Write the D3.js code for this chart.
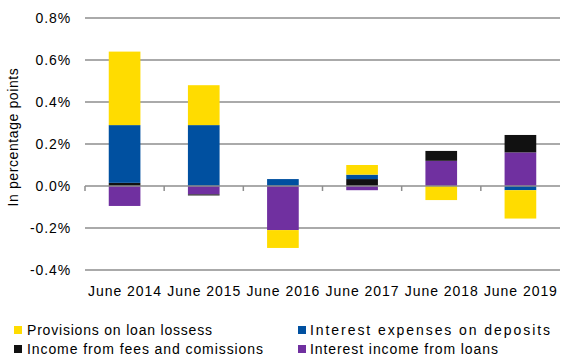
<!DOCTYPE html>
<html><head><meta charset="utf-8">
<script src="https://cdn.jsdelivr.net/npm/d3@7"></script>
<style>body{margin:0;background:#fff}svg{display:block}text{font-family:"Liberation Sans",Arial,sans-serif;fill:#000}</style>
</head><body><svg id="c" width="561" height="359"></svg>
<script>
const categories = ["June 2014","June 2015","June 2016","June 2017","June 2018","June 2019"];
const interestIncomeLoans = [-0.095,-0.040,-0.210,-0.020,0.120,0.160];
const feesCommissions    = [0.015,-0.005,0.000,0.033,0.047,0.083];
const interestExpDeposits= [0.275,0.290,0.033,0.021,0.000,-0.020];
const provisions         = [0.350,0.190,-0.085,0.046,-0.067,-0.135];
const yTicks = [-0.4,-0.2,0,0.2,0.4,0.6,0.8];

const series = [
  {key:"loans", name:"Interest income from loans", color:"#7030a0", values:interestIncomeLoans},
  {key:"fees", name:"Income from fees and comissions", color:"#111111", values:feesCommissions},
  {key:"dep", name:"Interest expenses on deposits", color:"#0050a0", values:interestExpDeposits},
  {key:"prov", name:"Provisions on loan lossess", color:"#ffdc00", values:provisions}
];
const rows = categories.map((c,i)=>{const r={cat:c};series.forEach(s=>r[s.key]=s.values[i]);return r;});

const svg = d3.select("#c");
const L=85,R=560,T=18,B=270;
const x = d3.scaleBand().domain(categories).range([L,R]).paddingInner(0.6).paddingOuter(0.3);
const xb = d3.scaleBand().domain(categories).range([L,R]);
const y = d3.scaleLinear().domain([-0.4,0.8]).range([B,T]);
const fmt = d => d3.format(".1f")(d).replace("\u2212","-") + "%";

svg.append("g").selectAll("line").data(yTicks.filter(d=>d!==0)).join("line")
  .attr("x1",L).attr("x2",R).attr("y1",d=>y(d)).attr("y2",d=>y(d))
  .attr("stroke","#8e8e8e").attr("stroke-width",1.5);

svg.append("g").selectAll("text").data(yTicks).join("text")
  .attr("x",71).attr("y",d=>y(d)).attr("dy","0.36em").attr("text-anchor","end")
  .attr("font-size",14).attr("letter-spacing",0.9).text(fmt);

const stack = d3.stack().keys(series.map(s=>s.key)).offset(d3.stackOffsetDiverging);
const st = stack(rows);
svg.append("g").selectAll("g").data(st).join("g")
  .attr("fill",(d,i)=>series[i].color)
  .selectAll("rect").data(d=>d).join("rect")
  .attr("x",d=>x(d.data.cat)).attr("width",x.bandwidth())
  .attr("y",d=>y(Math.max(d[0],d[1]))).attr("height",d=>Math.abs(y(d[0])-y(d[1])));

svg.append("line").attr("x1",L).attr("x2",R).attr("y1",y(0)).attr("y2",y(0))
  .attr("stroke","#8e8e8e").attr("stroke-width",1.5);
svg.append("g").selectAll("line").data(categories).join("line")
  .attr("x1",d=>xb(d)).attr("x2",d=>xb(d)).attr("y1",y(0)).attr("y2",y(0)+5)
  .attr("stroke","#8e8e8e").attr("stroke-width",1.5);

svg.append("g").selectAll("text").data(categories).join("text")
  .attr("x",d=>xb(d)+xb.bandwidth()/2-36.5).attr("y",296)
  .attr("font-size",14).attr("textLength",73).attr("lengthAdjust","spacing").text(d=>d);

svg.append("text").attr("transform","translate(18,137) rotate(-90)")
  .attr("text-anchor","middle").attr("font-size",14).attr("letter-spacing",0.6).text("In percentage  points");

const legend = [
  {s:series[3],x:14,tx:27,y:335,w:185},{s:series[2],x:298,tx:310,y:335,w:240},
  {s:series[1],x:14,tx:27,y:354,w:236},{s:series[0],x:298,tx:310,y:354,w:188}
];
const lg = svg.append("g").selectAll("g").data(legend).join("g");
lg.append("rect").attr("x",d=>d.x).attr("y",d=>d.y-9).attr("width",8).attr("height",8).attr("fill",d=>d.s.color);
lg.append("text").attr("x",d=>d.tx).attr("y",d=>d.y).attr("font-size",14)
  .attr("textLength",d=>d.w).attr("lengthAdjust","spacing").text(d=>d.s.name);
</script></body></html>
